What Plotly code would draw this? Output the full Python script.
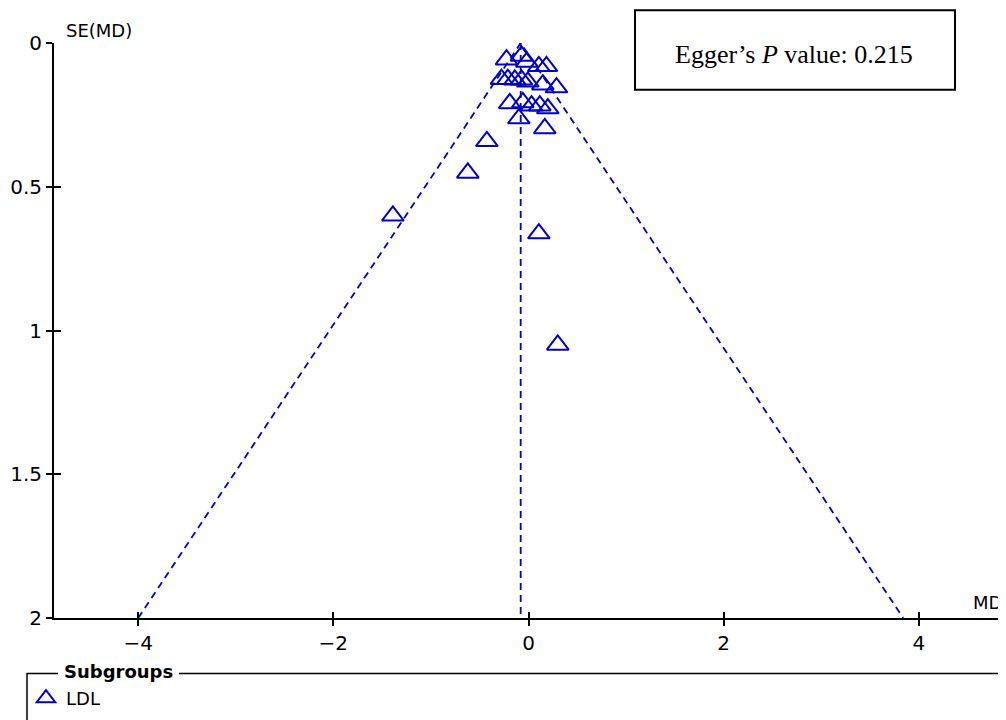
import plotly.graph_objects as go

# ---- data ----
md = [-0.225, -0.072, -0.017, 0.106, 0.184,
      -0.277, -0.212, -0.140, -0.072, -0.007, 0.147, 0.287,
      -0.192, -0.058, 0.031, 0.116, 0.198,
      -0.099, 0.167, -0.427, -0.622, -1.390, 0.106, 0.300]
se_md = [0.058, 0.045, 0.066, 0.081, 0.081,
         0.126, 0.126, 0.128, 0.128, 0.135, 0.145, 0.155,
         0.210, 0.207, 0.218, 0.218, 0.228,
         0.263, 0.297, 0.342, 0.452, 0.601, 0.663, 1.050]

funnel_md = [-4.00, -0.08, 3.84]
funnel_se = [2.0, 0.0, 2.0]
pooled_md = [-0.08, -0.08]
pooled_se = [0.0, 2.0]

x_ticks = [-4, -2, 0, 2, 4]
x_tick_text = ["\u22124", "\u22122", "0", "2", "4"]
y_ticks = [0, 0.5, 1, 1.5, 2]
y_tick_text = ["0", "0.5", "1", "1.5", "2"]

subgroup = "LDL"
egger_text = "Egger\u2019s <i>P</i> value: 0.215"

BLUE = "#0000CC"
FONT = "DejaVu Sans"

fig = go.Figure()
fig.add_trace(go.Scatter(x=funnel_md, y=funnel_se, mode="lines",
                         line=dict(color=BLUE, width=1.8, dash="7px,5px"),
                         showlegend=False, hoverinfo="skip"))
fig.add_trace(go.Scatter(x=pooled_md, y=pooled_se, mode="lines",
                         line=dict(color=BLUE, width=1.8, dash="7px,5px"),
                         showlegend=False, hoverinfo="skip"))
fig.add_trace(go.Scatter(x=md, y=se_md, mode="markers", name=subgroup,
                         marker=dict(symbol="triangle-up-open", size=19,
                                     color=BLUE, line=dict(color=BLUE, width=2))))
# invisible trace on overlay axes (inner half of the crossing ticks)
fig.add_trace(go.Scatter(x=[None], y=[None], xaxis="x2", yaxis="y2",
                         showlegend=False, hoverinfo="skip"))

# page is offset by the 8px body margin: figure drawn at (8, 8)
OFF = 8
W, H = 1006 - OFF, 720 - OFF
PL, PR, PT, PB = 54, 1003, 43, 622          # plot area in page pixels
L, R, T, B = PL - OFF, W - (PR - OFF), PT - OFF, H - (PB - OFF)
pw, ph = PR - PL, PB - PT


def px_x(p):
    return (p - PL) / pw


def px_y(p):
    return (PB - p) / ph


axis_common = dict(showgrid=False, zeroline=False, showline=True,
                   linecolor="black", linewidth=2, tickcolor="black",
                   tickwidth=2, ticklen=6,
                   tickfont=dict(family=FONT, size=20, color="black"))

fig.update_layout(
    width=W, height=H,
    margin=dict(l=L, r=R, t=T, b=B, pad=0),
    paper_bgcolor="white", plot_bgcolor="white",
    font=dict(family=FONT, size=18, color="black"),
    xaxis=dict(range=[-4.863, 4.863], tickmode="array", tickvals=x_ticks,
               ticktext=x_tick_text, ticks="outside", **axis_common),
    yaxis=dict(range=[2, 0], tickmode="array", tickvals=y_ticks,
               ticktext=y_tick_text, ticks="outside", **axis_common),
    xaxis2=dict(overlaying="x", matches="x", anchor="y2", side="bottom",
                tickmode="array", tickvals=x_ticks, ticks="inside",
                showticklabels=False, showgrid=False, zeroline=False,
                showline=False, tickcolor="black", tickwidth=2, ticklen=6),
    yaxis2=dict(overlaying="y", matches="y", anchor="x2", side="left",
                tickmode="array", tickvals=y_ticks, ticks="inside",
                showticklabels=False, showgrid=False, zeroline=False,
                showline=False, tickcolor="black", tickwidth=2, ticklen=7),
    showlegend=True,
    legend=dict(x=px_x(26), y=px_y(703), xanchor="left", yanchor="middle",
                bgcolor="rgba(0,0,0,0)", borderwidth=0,
                font=dict(family=FONT, size=18, color="black")),
)

# Egger box
fig.add_shape(type="rect", xref="paper", yref="paper",
              x0=px_x(635), x1=px_x(955), y0=px_y(90), y1=px_y(10),
              line=dict(color="black", width=2), fillcolor="white", layer="above")
fig.add_annotation(xref="paper", yref="paper", x=px_x(794), y=px_y(55),
                   xanchor="center", yanchor="middle", showarrow=False,
                   text=egger_text,
                   font=dict(family="Liberation Serif", size=26, color="black"))

# Subgroups legend frame
fig.add_shape(type="rect", xref="paper", yref="paper",
              x0=px_x(27), x1=px_x(1003), y0=px_y(740), y1=px_y(678),
              line=dict(color="black", width=1.5), fillcolor="rgba(0,0,0,0)")
fig.add_annotation(xref="paper", yref="paper", x=px_x(58), y=px_y(676),
                   xanchor="left", yanchor="middle", showarrow=False,
                   text="<b>Subgroups</b>", bgcolor="white", bordercolor="white",
                   borderpad=5,
                   font=dict(family=FONT, size=18, color="black"))

# axis titles
fig.add_annotation(xref="paper", yref="paper", x=px_x(64), y=px_y(30),
                   xanchor="left", yanchor="middle", showarrow=False,
                   text="SE(MD)", font=dict(family=FONT, size=18, color="black"))
fig.add_annotation(xref="paper", yref="paper", x=px_x(1004), y=px_y(606),
                   xanchor="right", yanchor="middle", showarrow=False,
                   text="MD", font=dict(family=FONT, size=18, color="black"))

fig.write_html("out.html")
